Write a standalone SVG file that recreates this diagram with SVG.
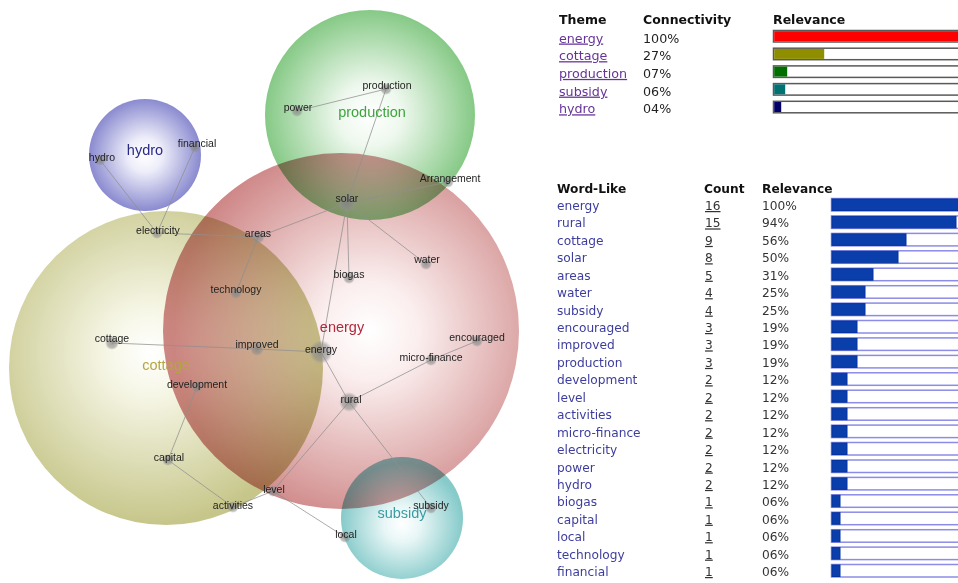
<svg xmlns="http://www.w3.org/2000/svg" width="958" height="583" viewBox="0 0 958 583">
<defs>
<radialGradient id="gGreen" cx="50%" cy="50%" r="50%"><stop offset="0" stop-color="#ffffff"/><stop offset="0.3" stop-color="#eef8ee"/><stop offset="1" stop-color="#86c986"/></radialGradient>
<radialGradient id="gBlue" cx="50%" cy="50%" r="50%"><stop offset="0" stop-color="#ffffff"/><stop offset="0.3" stop-color="#eeeefa"/><stop offset="1" stop-color="#8a8ad0"/></radialGradient>
<radialGradient id="gYellow" cx="45%" cy="45%" r="55%"><stop offset="0" stop-color="#ffffff"/><stop offset="0.25" stop-color="#f6f6e6"/><stop offset="1" stop-color="#c6c68a"/></radialGradient>
<radialGradient id="gRed" cx="58%" cy="50%" r="55%"><stop offset="0" stop-color="#ffffff"/><stop offset="0.25" stop-color="#fbeeee"/><stop offset="1" stop-color="#cf8888"/></radialGradient>
<radialGradient id="gTeal" cx="50%" cy="55%" r="50%"><stop offset="0" stop-color="#ffffff"/><stop offset="0.3" stop-color="#e8f6f6"/><stop offset="1" stop-color="#86caca"/></radialGradient>
<radialGradient id="gDot"><stop offset="0" stop-color="#808080" stop-opacity="0.75"/><stop offset="0.7" stop-color="#8c8c8c" stop-opacity="0.55"/><stop offset="1" stop-color="#999999" stop-opacity="0"/></radialGradient>
<style>
.theme{mix-blend-mode:multiply}
.dot{fill:url(#gDot)}
.lbl{font-family:"Liberation Sans",Arial,sans-serif;font-size:10.5px;fill:#222;text-anchor:middle}
.tl{font-family:"Liberation Sans",Arial,sans-serif;font-size:14.5px;text-anchor:middle}
.edge{stroke:#8f8f8f;stroke-width:1;stroke-opacity:0.75;fill:none}
.h{font-family:"DejaVu Sans",Verdana,sans-serif;font-weight:bold;font-size:12.5px;fill:#111}
.t1{font-family:"DejaVu Sans",Verdana,sans-serif;font-size:12.7px;fill:#222}
.lnk{fill:#663399;text-decoration:underline}
.t2{font-family:"DejaVu Sans",Verdana,sans-serif;font-size:12.2px;fill:#333}
.w{fill:#3d3d9e}
.cnt{text-decoration:underline}
.b1{fill:#fff;stroke:#5a5a5a;stroke-width:1.5}
.b2{fill:#fff;stroke:#8c8ce8;stroke-width:1.5}
.f2{fill:#0a3eaa;stroke:#0532a0;stroke-width:1}
</style>
</defs>
<rect width="958" height="583" fill="#ffffff"/>

<g id="themes" style="isolation:isolate">
<g id="theme-cottage"><circle class="theme" cx="166" cy="368" r="157" fill="url(#gYellow)"/></g>
<g id="theme-energy"><circle class="theme" cx="341" cy="331" r="178" fill="url(#gRed)"/></g>
<g id="theme-production"><circle class="theme" cx="370" cy="115" r="105" fill="url(#gGreen)"/></g>
<g id="theme-hydro"><circle class="theme" cx="145" cy="155" r="56" fill="url(#gBlue)"/></g>
<g id="theme-subsidy"><circle class="theme" cx="402" cy="518" r="61" fill="url(#gTeal)"/></g>
</g>

<g id="connectors">
<line class="edge" x1="297" y1="111" x2="386" y2="89"/>
<line class="edge" x1="386" y1="89" x2="347" y2="203"/>
<line class="edge" x1="100" y1="160" x2="157" y2="233"/>
<line class="edge" x1="195" y1="147" x2="157" y2="233"/>
<line class="edge" x1="157" y1="233" x2="258" y2="237"/>
<line class="edge" x1="258" y1="237" x2="347" y2="203"/>
<line class="edge" x1="347" y1="203" x2="448" y2="182"/>
<line class="edge" x1="347" y1="203" x2="426" y2="264"/>
<line class="edge" x1="347" y1="203" x2="349" y2="278"/>
<line class="edge" x1="347" y1="203" x2="321" y2="352"/>
<line class="edge" x1="258" y1="237" x2="236" y2="293"/>
<line class="edge" x1="112" y1="343" x2="257" y2="349"/>
<line class="edge" x1="257" y1="349" x2="321" y2="352"/>
<line class="edge" x1="321" y1="352" x2="349" y2="402"/>
<line class="edge" x1="349" y1="402" x2="431" y2="360"/>
<line class="edge" x1="431" y1="360" x2="477" y2="341"/>
<line class="edge" x1="349" y1="402" x2="431" y2="508"/>
<line class="edge" x1="349" y1="402" x2="273" y2="491"/>
<line class="edge" x1="273" y1="491" x2="233" y2="507"/>
<line class="edge" x1="273" y1="491" x2="345" y2="537"/>
<line class="edge" x1="197" y1="387" x2="168" y2="460"/>
<line class="edge" x1="168" y1="460" x2="233" y2="507"/>
</g>

<g id="theme-labels">
<text class="tl" x="372" y="117" fill="#3ca53c">production</text>
<text class="tl" x="145" y="155" fill="#2a2a85">hydro</text>
<text class="tl" x="342" y="332" fill="#b02a3c">energy</text>
<text class="tl" x="166" y="370" fill="#b4a642">cottage</text>
<text class="tl" x="402" y="518" fill="#3a9ca2">subsidy</text>
</g>

<g id="n-production"><circle class="dot" cx="386" cy="89" r="6"/><text class="lbl" x="387" y="89">production</text></g>
<g id="n-power"><circle class="dot" cx="297" cy="111" r="6"/><text class="lbl" x="298" y="111">power</text></g>
<g id="n-hydro"><circle class="dot" cx="100" cy="160" r="6"/><text class="lbl" x="102" y="161">hydro</text></g>
<g id="n-financial"><circle class="dot" cx="195" cy="147" r="6"/><text class="lbl" x="197" y="147">financial</text></g>
<g id="n-electricity"><circle class="dot" cx="157" cy="233" r="6"/><text class="lbl" x="158" y="234">electricity</text></g>
<g id="n-areas"><circle class="dot" cx="258" cy="237" r="7"/><text class="lbl" x="258" y="237">areas</text></g>
<g id="n-solar"><circle class="dot" cx="347" cy="203" r="9"/><text class="lbl" x="347" y="202">solar</text></g>
<g id="n-arrangement"><circle class="dot" cx="448" cy="182" r="6"/><text class="lbl" x="450" y="182">Arrangement</text></g>
<g id="n-water"><circle class="dot" cx="426" cy="264" r="6"/><text class="lbl" x="427" y="263">water</text></g>
<g id="n-biogas"><circle class="dot" cx="349" cy="278" r="6"/><text class="lbl" x="349" y="278">biogas</text></g>
<g id="n-technology"><circle class="dot" cx="236" cy="293" r="6"/><text class="lbl" x="236" y="293">technology</text></g>
<g id="n-energy"><circle class="dot" cx="321" cy="352" r="12"/><text class="lbl" x="321" y="353">energy</text></g>
<g id="n-encouraged"><circle class="dot" cx="477" cy="341" r="6"/><text class="lbl" x="477" y="341">encouraged</text></g>
<g id="n-micro-finance"><circle class="dot" cx="431" cy="360" r="6"/><text class="lbl" x="431" y="361">micro-finance</text></g>
<g id="n-cottage"><circle class="dot" cx="112" cy="343" r="7"/><text class="lbl" x="112" y="342">cottage</text></g>
<g id="n-improved"><circle class="dot" cx="257" cy="349" r="7"/><text class="lbl" x="257" y="348">improved</text></g>
<g id="n-development"><circle class="dot" cx="197" cy="387" r="6"/><text class="lbl" x="197" y="388">development</text></g>
<g id="n-rural"><circle class="dot" cx="349" cy="402" r="10"/><text class="lbl" x="351" y="403">rural</text></g>
<g id="n-capital"><circle class="dot" cx="168" cy="460" r="6"/><text class="lbl" x="169" y="461">capital</text></g>
<g id="n-level"><circle class="dot" cx="273" cy="491" r="6"/><text class="lbl" x="274" y="493">level</text></g>
<g id="n-activities"><circle class="dot" cx="233" cy="507" r="6"/><text class="lbl" x="233" y="509">activities</text></g>
<g id="n-subsidy"><circle class="dot" cx="431" cy="508" r="6"/><text class="lbl" x="431" y="509">subsidy</text></g>
<g id="n-local"><circle class="dot" cx="345" cy="537" r="6"/><text class="lbl" x="346" y="538">local</text></g>

<g id="theme-table">
<text class="h" x="559" y="24">Theme</text>
<text class="h" x="643" y="24">Connectivity</text>
<text class="h" x="773" y="24">Relevance</text>
<text class="t1 lnk" x="559" y="42.5">energy</text><text class="t1" x="643" y="42.5">100%</text>
<text class="t1 lnk" x="559" y="60.2">cottage</text><text class="t1" x="643" y="60.2">27%</text>
<text class="t1 lnk" x="559" y="77.9">production</text><text class="t1" x="643" y="77.9">07%</text>
<text class="t1 lnk" x="559" y="95.6">subsidy</text><text class="t1" x="643" y="95.6">06%</text>
<text class="t1 lnk" x="559" y="113.3">hydro</text><text class="t1" x="643" y="113.3">04%</text>
<rect class="b1" x="773.5" y="30.5" width="200" height="11.5"/><rect x="774.2" y="31.2" width="200" height="10" fill="#ff0000"/>
<rect class="b1" x="773.5" y="48.2" width="200" height="11.5"/><rect x="774.2" y="48.9" width="50" height="10" fill="#8e8e00"/>
<rect class="b1" x="773.5" y="65.9" width="200" height="11.5"/><rect x="774.2" y="66.6" width="13" height="10" fill="#006f00"/>
<rect class="b1" x="773.5" y="83.6" width="200" height="11.5"/><rect x="774.2" y="84.3" width="11" height="10" fill="#007272"/>
<rect class="b1" x="773.5" y="101.3" width="200" height="11.5"/><rect x="774.2" y="102" width="7" height="10" fill="#000068"/>
</g>

<g id="word-table">
<text class="h" x="557" y="193" style="font-size:12.2px">Word-Like</text>
<text class="h" x="704" y="193" style="font-size:12.2px">Count</text>
<text class="h" x="762" y="193" style="font-size:12.2px">Relevance</text>
<g class="t2">
<text class="w" x="557" y="210">energy</text><text class="cnt" x="705" y="210">16</text><text x="762" y="210">100%</text>
<text class="w" x="557" y="227.4">rural</text><text class="cnt" x="705" y="227.4">15</text><text x="762" y="227.4">94%</text>
<text class="w" x="557" y="244.9">cottage</text><text class="cnt" x="705" y="244.9">9</text><text x="762" y="244.9">56%</text>
<text class="w" x="557" y="262.3">solar</text><text class="cnt" x="705" y="262.3">8</text><text x="762" y="262.3">50%</text>
<text class="w" x="557" y="279.7">areas</text><text class="cnt" x="705" y="279.7">5</text><text x="762" y="279.7">31%</text>
<text class="w" x="557" y="297.2">water</text><text class="cnt" x="705" y="297.2">4</text><text x="762" y="297.2">25%</text>
<text class="w" x="557" y="314.6">subsidy</text><text class="cnt" x="705" y="314.6">4</text><text x="762" y="314.6">25%</text>
<text class="w" x="557" y="332">encouraged</text><text class="cnt" x="705" y="332">3</text><text x="762" y="332">19%</text>
<text class="w" x="557" y="349.4">improved</text><text class="cnt" x="705" y="349.4">3</text><text x="762" y="349.4">19%</text>
<text class="w" x="557" y="366.9">production</text><text class="cnt" x="705" y="366.9">3</text><text x="762" y="366.9">19%</text>
<text class="w" x="557" y="384.3">development</text><text class="cnt" x="705" y="384.3">2</text><text x="762" y="384.3">12%</text>
<text class="w" x="557" y="401.7">level</text><text class="cnt" x="705" y="401.7">2</text><text x="762" y="401.7">12%</text>
<text class="w" x="557" y="419.2">activities</text><text class="cnt" x="705" y="419.2">2</text><text x="762" y="419.2">12%</text>
<text class="w" x="557" y="436.6">micro-finance</text><text class="cnt" x="705" y="436.6">2</text><text x="762" y="436.6">12%</text>
<text class="w" x="557" y="454">electricity</text><text class="cnt" x="705" y="454">2</text><text x="762" y="454">12%</text>
<text class="w" x="557" y="471.5">power</text><text class="cnt" x="705" y="471.5">2</text><text x="762" y="471.5">12%</text>
<text class="w" x="557" y="488.9">hydro</text><text class="cnt" x="705" y="488.9">2</text><text x="762" y="488.9">12%</text>
<text class="w" x="557" y="506.3">biogas</text><text class="cnt" x="705" y="506.3">1</text><text x="762" y="506.3">06%</text>
<text class="w" x="557" y="523.7">capital</text><text class="cnt" x="705" y="523.7">1</text><text x="762" y="523.7">06%</text>
<text class="w" x="557" y="541.2">local</text><text class="cnt" x="705" y="541.2">1</text><text x="762" y="541.2">06%</text>
<text class="w" x="557" y="558.6">technology</text><text class="cnt" x="705" y="558.6">1</text><text x="762" y="558.6">06%</text>
<text class="w" x="557" y="576">financial</text><text class="cnt" x="705" y="576">1</text><text x="762" y="576">06%</text>
</g>
<g id="word-bars">
<rect class="b2" x="831.5" y="198.5" width="140" height="12.5"/><rect class="f2" x="832" y="199" width="140" height="11.5"/>
<rect class="b2" x="831.5" y="215.9" width="140" height="12.5"/><rect class="f2" x="832" y="216.4" width="124" height="11.5"/>
<rect class="b2" x="831.5" y="233.4" width="140" height="12.5"/><rect class="f2" x="832" y="233.9" width="74" height="11.5"/>
<rect class="b2" x="831.5" y="250.8" width="140" height="12.5"/><rect class="f2" x="832" y="251.3" width="66" height="11.5"/>
<rect class="b2" x="831.5" y="268.2" width="140" height="12.5"/><rect class="f2" x="832" y="268.7" width="41" height="11.5"/>
<rect class="b2" x="831.5" y="285.7" width="140" height="12.5"/><rect class="f2" x="832" y="286.2" width="33" height="11.5"/>
<rect class="b2" x="831.5" y="303.1" width="140" height="12.5"/><rect class="f2" x="832" y="303.6" width="33" height="11.5"/>
<rect class="b2" x="831.5" y="320.5" width="140" height="12.5"/><rect class="f2" x="832" y="321" width="25" height="11.5"/>
<rect class="b2" x="831.5" y="337.9" width="140" height="12.5"/><rect class="f2" x="832" y="338.4" width="25" height="11.5"/>
<rect class="b2" x="831.5" y="355.4" width="140" height="12.5"/><rect class="f2" x="832" y="355.9" width="25" height="11.5"/>
<rect class="b2" x="831.5" y="372.8" width="140" height="12.5"/><rect class="f2" x="832" y="373.3" width="15" height="11.5"/>
<rect class="b2" x="831.5" y="390.2" width="140" height="12.5"/><rect class="f2" x="832" y="390.7" width="15" height="11.5"/>
<rect class="b2" x="831.5" y="407.7" width="140" height="12.5"/><rect class="f2" x="832" y="408.2" width="15" height="11.5"/>
<rect class="b2" x="831.5" y="425.1" width="140" height="12.5"/><rect class="f2" x="832" y="425.6" width="15" height="11.5"/>
<rect class="b2" x="831.5" y="442.5" width="140" height="12.5"/><rect class="f2" x="832" y="443" width="15" height="11.5"/>
<rect class="b2" x="831.5" y="460" width="140" height="12.5"/><rect class="f2" x="832" y="460.5" width="15" height="11.5"/>
<rect class="b2" x="831.5" y="477.4" width="140" height="12.5"/><rect class="f2" x="832" y="477.9" width="15" height="11.5"/>
<rect class="b2" x="831.5" y="494.8" width="140" height="12.5"/><rect class="f2" x="832" y="495.3" width="8" height="11.5"/>
<rect class="b2" x="831.5" y="512.2" width="140" height="12.5"/><rect class="f2" x="832" y="512.7" width="8" height="11.5"/>
<rect class="b2" x="831.5" y="529.7" width="140" height="12.5"/><rect class="f2" x="832" y="530.2" width="8" height="11.5"/>
<rect class="b2" x="831.5" y="547.1" width="140" height="12.5"/><rect class="f2" x="832" y="547.6" width="8" height="11.5"/>
<rect class="b2" x="831.5" y="564.5" width="140" height="12.5"/><rect class="f2" x="832" y="565" width="8" height="11.5"/>
</g>
</g>
</svg>
